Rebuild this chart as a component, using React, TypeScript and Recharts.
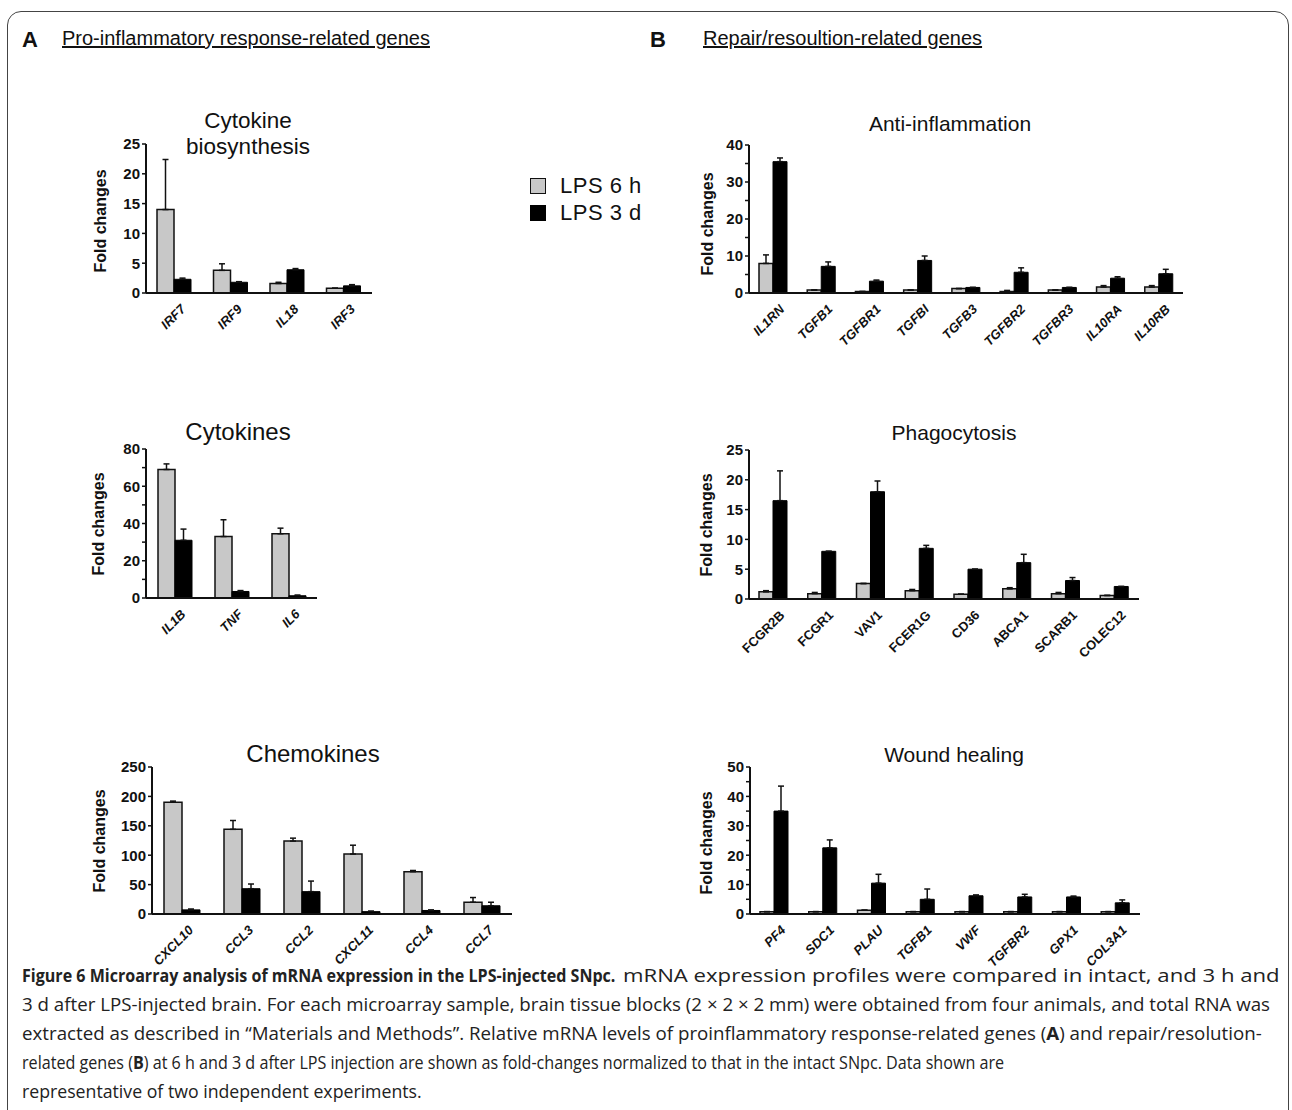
import React, { useLayoutEffect, useRef, useState } from 'react';
import { BarChart, Bar, XAxis, YAxis, ErrorBar } from 'recharts';

// Cytokine biosynthesis
const bioGenes = ['IRF7', 'IRF9', 'IL18', 'IRF3'];
const bio6h = [14, 3.8, 1.6, 0.8];
const bio6hErr = [8.4, 1.1, 0.2, 0];
const bio3d = [2.3, 1.8, 3.9, 1.2];
const bio3dErr = [0.2, 0.1, 0.2, 0.2];

// Cytokines
const cytGenes = ['IL1B', 'TNF', 'IL6'];
const cyt6h = [69, 33, 34.5];
const cyt6hErr = [3, 9, 3];
const cyt3d = [31, 3.5, 1.2];
const cyt3dErr = [6, 0.5, 0.4];

// Chemokines
const chemGenes = ['CXCL10', 'CCL3', 'CCL2', 'CXCL11', 'CCL4', 'CCL7'];
const chem6h = [190, 144, 124, 102, 72, 20];
const chem6hErr = [2, 15, 5, 15, 2, 8];
const chem3d = [7, 43, 38, 4, 6, 14];
const chem3dErr = [1.5, 8, 18, 1, 1, 6];

// Anti-inflammation
const antiGenes = ['IL1RN', 'TGFB1', 'TGFBR1', 'TGFBI', 'TGFB3', 'TGFBR2', 'TGFBR3', 'IL10RA', 'IL10RB'];
const anti6h = [8, 0.8, 0.4, 0.8, 1.2, 0.4, 0.8, 1.6, 1.6];
const anti6hErr = [2.3, 0, 0, 0, 0, 0.3, 0, 0.4, 0.4];
const anti3d = [35.5, 7.2, 3.2, 8.8, 1.5, 5.6, 1.5, 4.0, 5.2];
const anti3dErr = [1, 1.2, 0.3, 1.2, 0, 1.2, 0, 0.4, 1.2];

// Phagocytosis
const phagoGenes = ['FCGR2B', 'FCGR1', 'VAV1', 'FCER1G', 'CD36', 'ABCA1', 'SCARB1', 'COLEC12'];
const phago6h = [1.2, 0.9, 2.6, 1.4, 0.8, 1.7, 0.9, 0.6];
const phago6hErr = [0.2, 0.2, 0, 0.2, 0, 0.2, 0.2, 0];
const phago3d = [16.5, 8, 18, 8.5, 5, 6.1, 3.1, 2.1];
const phago3dErr = [5, 0, 1.8, 0.5, 0, 1.4, 0.5, 0];

// Wound healing
const woundGenes = ['PF4', 'SDC1', 'PLAU', 'TGFB1', 'VWF', 'TGFBR2', 'GPX1', 'COL3A1'];
const wound6h = [0.8, 0.8, 1.3, 0.8, 0.8, 0.8, 0.8, 0.8];
const wound6hErr = [0, 0, 0, 0, 0, 0, 0, 0];
const wound3d = [35, 22.5, 10.5, 5, 6.2, 5.8, 5.8, 3.8];
const wound3dErr = [8.5, 2.7, 3, 3.5, 0.3, 0.9, 0.3, 1];

const FONT = '"Liberation Sans", Arial, sans-serif';
const INK = '#111';

function GeneTick(props: any) {
  const { x, y, payload, italic } = props;
  return (
    <text
      transform={`translate(${x + 12},${y + 9}) rotate(-45)`}
      textAnchor="end"
      fontFamily={FONT}
      fontSize={13}
      fontWeight="bold"
      fontStyle={italic ? 'italic' : 'normal'}
      fill={INK}
    >
      {payload.value}
    </text>
  );
}

type PanelProps = {
  genes: string[];
  v6: number[];
  e6: number[];
  v3: number[];
  e3: number[];
  max: number;
  ticks: number[];
  labeled: number[];
  axisX: number;
  yTop: number;
  yZero: number;
  xEnd: number;
  barSize: number;
  italic: boolean;
};

function Panel(p: PanelProps) {
  const data = p.genes.map((g, i) => ({
    gene: g,
    h6: p.v6[i],
    d3: p.v3[i],
    eh6: [0, p.e6[i]],
    ed3: [0, p.e3[i]],
  }));
  const yAxisW = 40;
  const top = 12;
  const bottom = 72;
  const width = yAxisW + (p.xEnd - p.axisX) + 4;
  const height = top + (p.yZero - p.yTop) + bottom;
  return (
    <div style={{ position: 'absolute', left: p.axisX - yAxisW, top: p.yTop - top }}>
      <BarChart
        width={width}
        height={height}
        data={data}
        margin={{ top, right: 4, bottom: 0, left: 0 }}
        barGap={0}
        barSize={p.barSize}
      >
        <XAxis
          dataKey="gene"
          height={bottom}
          interval={0}
          tickLine={false}
          axisLine={{ stroke: INK, strokeWidth: 2 }}
          tick={(tp: any) => <GeneTick {...tp} italic={p.italic} />}
        />
        <YAxis
          width={yAxisW}
          domain={[0, p.max]}
          ticks={p.ticks}
          interval={0}
          tickSize={4}
          tickMargin={2}
          tickFormatter={(v: number) => (p.labeled.includes(v) ? String(v) : '')}
          axisLine={{ stroke: INK, strokeWidth: 2 }}
          tickLine={{ stroke: INK, strokeWidth: 1.5 }}
          tick={{ fill: INK, fontSize: 15, fontWeight: 'bold', fontFamily: FONT }}
        />
        <Bar dataKey="h6" fill="#c8c8c8" stroke={INK} strokeWidth={1.5} isAnimationActive={false}>
          <ErrorBar dataKey="eh6" width={3} stroke={INK} strokeWidth={1.5} direction="y" />
        </Bar>
        <Bar dataKey="d3" fill="#000" stroke="#000" strokeWidth={1} isAnimationActive={false}>
          <ErrorBar dataKey="ed3" width={3} stroke={INK} strokeWidth={1.5} direction="y" />
        </Bar>
      </BarChart>
    </div>
  );
}

function Abs({ x, y, children, style }: { x: number; y: number; children: React.ReactNode; style?: React.CSSProperties }) {
  return (
    <div
      style={{
        position: 'absolute',
        left: x,
        top: y,
        transform: 'translate(-50%, -50%)',
        whiteSpace: 'nowrap',
        lineHeight: 1,
        textAlign: 'center',
        fontFamily: FONT,
        color: INK,
        ...style,
      }}
    >
      {children}
    </div>
  );
}

function YLabel({ x, y }: { x: number; y: number }) {
  return (
    <Abs x={x} y={y} style={{ transform: 'translate(-50%, -50%) rotate(-90deg)', fontSize: 16, fontWeight: 'bold' }}>
      Fold changes
    </Abs>
  );
}

// caption line squeezed to the width it has in the figure
function FitLine({ x, y, width, bold, children }: { x: number; y: number; width: number; bold?: boolean; children: React.ReactNode }) {
  const ref = useRef<SVGTextElement>(null);
  const [k, setK] = useState(1);
  useLayoutEffect(() => {
    if (ref.current) {
      const w = ref.current.getComputedTextLength();
      if (w > 0) setK(width / w);
    }
  }, [width]);
  return (
    <text ref={ref} transform={`translate(${x},${y}) scale(${k},1)`} fontWeight={bold ? 'bold' : 'normal'}>
      {children}
    </text>
  );
}

const leftTitle: React.CSSProperties = { fontSize: 24 };
const rightTitle: React.CSSProperties = { fontSize: 21 };

export default function App() {
  return (
    <div
      style={{
        position: 'absolute',
        left: 0,
        top: 0,
        width: 1292,
        height: 1110,
        overflow: 'hidden',
        background: '#fff',
        fontFamily: FONT,
      }}
    >
      <div
        style={{
          position: 'absolute',
          left: 7,
          top: 11,
          width: 1280,
          height: 1140,
          border: '1.5px solid #444',
          borderRadius: 14,
        }}
      />

      <div style={{ position: 'absolute', left: 22, top: 27, fontSize: 22, fontWeight: 'bold', color: INK }}>A</div>
      <div style={{ position: 'absolute', left: 62, top: 27, fontSize: 20, textDecoration: 'underline', color: INK }}>
        Pro-inflammatory response-related genes
      </div>
      <div style={{ position: 'absolute', left: 650, top: 27, fontSize: 22, fontWeight: 'bold', color: INK }}>B</div>
      <div style={{ position: 'absolute', left: 703, top: 27, fontSize: 20, textDecoration: 'underline', color: INK }}>
        Repair/resoultion-related genes
      </div>

      {/* legend */}
      <div style={{ position: 'absolute', left: 530, top: 178, width: 14, height: 14, background: '#c8c8c8', border: '1.5px solid #111' }} />
      <div style={{ position: 'absolute', left: 560, top: 173, fontSize: 22, letterSpacing: 0.5, color: INK }}>LPS 6 h</div>
      <div style={{ position: 'absolute', left: 530, top: 205, width: 14, height: 14, background: '#000', border: '1.5px solid #000' }} />
      <div style={{ position: 'absolute', left: 560, top: 200, fontSize: 22, letterSpacing: 0.5, color: INK }}>LPS 3 d</div>

      {/* Cytokine biosynthesis */}
      <Abs x={248} y={121} style={{ fontSize: 22.5 }}>Cytokine</Abs>
      <Abs x={248} y={147} style={{ fontSize: 22.5 }}>biosynthesis</Abs>
      <YLabel x={101} y={221} />
      <Panel
        genes={bioGenes}
        v6={bio6h}
        e6={bio6hErr}
        v3={bio3d}
        e3={bio3dErr}
        max={25}
        ticks={[0, 5, 10, 15, 20, 25]}
        labeled={[0, 5, 10, 15, 20, 25]}
        axisX={146}
        yTop={144}
        yZero={293}
        xEnd={372}
        barSize={17}
        italic
      />

      {/* Cytokines */}
      <Abs x={238} y={432} style={leftTitle}>Cytokines</Abs>
      <YLabel x={99} y={524} />
      <Panel
        genes={cytGenes}
        v6={cyt6h}
        e6={cyt6hErr}
        v3={cyt3d}
        e3={cyt3dErr}
        max={80}
        ticks={[0, 10, 20, 30, 40, 50, 60, 70, 80]}
        labeled={[0, 20, 40, 60, 80]}
        axisX={146}
        yTop={449}
        yZero={598}
        xEnd={317}
        barSize={17}
        italic
      />

      {/* Chemokines */}
      <Abs x={313} y={754} style={leftTitle}>Chemokines</Abs>
      <YLabel x={100} y={841} />
      <Panel
        genes={chemGenes}
        v6={chem6h}
        e6={chem6hErr}
        v3={chem3d}
        e3={chem3dErr}
        max={250}
        ticks={[0, 50, 100, 150, 200, 250]}
        labeled={[0, 50, 100, 150, 200, 250]}
        axisX={152}
        yTop={767}
        yZero={914}
        xEnd={512}
        barSize={18}
        italic
      />

      {/* Anti-inflammation */}
      <Abs x={950} y={123} style={rightTitle}>Anti-inflammation</Abs>
      <YLabel x={708} y={224} />
      <Panel
        genes={antiGenes}
        v6={anti6h}
        e6={anti6hErr}
        v3={anti3d}
        e3={anti3dErr}
        max={40}
        ticks={[0, 5, 10, 15, 20, 25, 30, 35, 40]}
        labeled={[0, 10, 20, 30, 40]}
        axisX={749}
        yTop={145}
        yZero={293}
        xEnd={1183}
        barSize={14}
        italic
      />

      {/* Phagocytosis */}
      <Abs x={954} y={432} style={rightTitle}>Phagocytosis</Abs>
      <YLabel x={707} y={525} />
      <Panel
        genes={phagoGenes}
        v6={phago6h}
        e6={phago6hErr}
        v3={phago3d}
        e3={phago3dErr}
        max={25}
        ticks={[0, 5, 10, 15, 20, 25]}
        labeled={[0, 5, 10, 15, 20, 25]}
        axisX={749}
        yTop={450}
        yZero={599}
        xEnd={1139}
        barSize={14}
        italic={false}
      />

      {/* Wound healing */}
      <Abs x={954} y={754} style={rightTitle}>Wound healing</Abs>
      <YLabel x={707} y={843} />
      <Panel
        genes={woundGenes}
        v6={wound6h}
        e6={wound6hErr}
        v3={wound3d}
        e3={wound3dErr}
        max={50}
        ticks={[0, 5, 10, 15, 20, 25, 30, 35, 40, 45, 50]}
        labeled={[0, 10, 20, 30, 40, 50]}
        axisX={750}
        yTop={767}
        yZero={914}
        xEnd={1140}
        barSize={14}
        italic
      />

      {/* caption */}
      <svg width={1292} height={150} style={{ position: 'absolute', left: 0, top: 960 }} fontFamily='"Open Sans", sans-serif' fontSize={18} fill="#222">
        <FitLine x={22} y={22} width={594} bold>
          Figure 6 Microarray analysis of mRNA expression in the LPS-injected SNpc.
        </FitLine>
        <FitLine x={623} y={22} width={657}>
          mRNA expression profiles were compared in intact, and 3 h and
        </FitLine>
        <FitLine x={22} y={51} width={1249}>
          3 d after LPS-injected brain. For each microarray sample, brain tissue blocks (2 × 2 × 2 mm) were obtained from four animals, and total RNA was
        </FitLine>
        <FitLine x={22} y={80} width={1240}>
          extracted as described in “Materials and Methods”. Relative mRNA levels of proinflammatory response-related genes (<tspan fontWeight="bold">A</tspan>) and repair/resolution-
        </FitLine>
        <FitLine x={22} y={109} width={983}>
          related genes (<tspan fontWeight="bold">B</tspan>) at 6 h and 3 d after LPS injection are shown as fold-changes normalized to that in the intact SNpc. Data shown are
        </FitLine>
        <FitLine x={22} y={138} width={400}>
          representative of two independent experiments.
        </FitLine>
      </svg>
    </div>
  );
}
